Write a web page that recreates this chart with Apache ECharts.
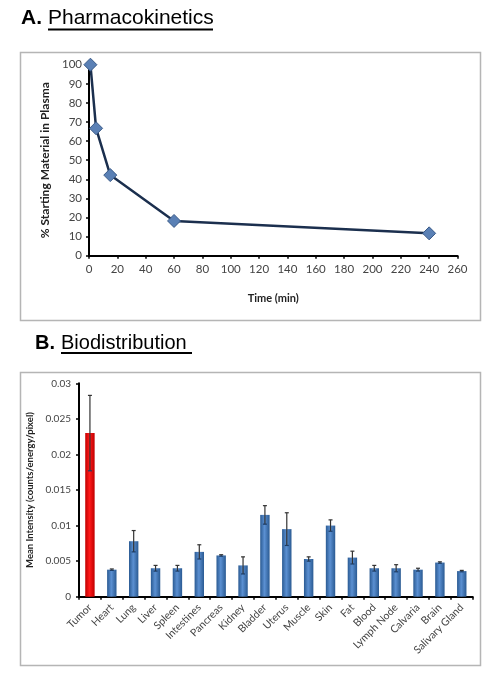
<!DOCTYPE html>
<html>
<head>
<meta charset="utf-8">
<script src="https://cdn.jsdelivr.net/npm/echarts@6/dist/echarts.min.js"></script>
<style>
html,body{margin:0;padding:0;background:#fff;}
#c{width:490px;height:673px;}
</style>
</head>
<body>
<div id="c"></div>
<script>
// ---- Panel A data ----
const pkTimes = [1, 5, 15, 60, 240];
const pkValues = [100, 66.7, 42.2, 18.2, 11.7];
const pkXTicks = [0, 260, 20];   // min, max, interval
const pkYTicks = [0, 100, 10];

// ---- Panel B data ----
const organs = ['Tumor','Heart','Lung','Liver','Spleen','Intestines','Pancreas','Kidney','Bladder','Uterus','Muscle','Skin','Fat','Blood','Lymph Node','Calvaria','Brain','Salivary Gland'];
const intensity = [0.0230,0.0038,0.0078,0.0040,0.0040,0.0063,0.0058,0.0044,0.0115,0.0095,0.0053,0.0100,0.0055,0.0040,0.0040,0.0038,0.0048,0.0036];
const intensityErr = [0.0053,0.0001,0.0015,0.0004,0.0004,0.0010,0.0001,0.0012,0.0013,0.0023,0.0003,0.0008,0.0009,0.0004,0.0005,0.0002,0.0001,0.0001];
const bdYTicks = [0, 0.03, 0.005];

const chart = echarts.init(document.getElementById('c'), null, {renderer:'canvas'});
const fontTick = 'Lato, "Open Sans", sans-serif';

const blueGrad = new echarts.graphic.LinearGradient(0,0,1,0,[
  {offset:0,color:'#2A5A92'},{offset:0.45,color:'#5B90D2'},{offset:1,color:'#2A5A92'}]);
const redGrad = new echarts.graphic.LinearGradient(0,0,1,0,[
  {offset:0,color:'#C00000'},{offset:0.45,color:'#FF1A1A'},{offset:1,color:'#C00000'}]);

const option = {
  backgroundColor:'#fff',
  animation:false,
  graphic:[
    {type:'rect', shape:{x:20.5,y:52.5,width:460,height:268}, style:{fill:'none',stroke:'#b5b5b5',lineWidth:1.5}},
    {type:'rect', shape:{x:20.5,y:372.5,width:460,height:293}, style:{fill:'none',stroke:'#b5b5b5',lineWidth:1.5}},
    {type:'text', left:21, top:8, style:{text:'A.', font:'bold 21px "Liberation Sans", Arial, sans-serif', fill:'#000'}},
    {type:'text', left:48, top:8, style:{text:'Pharmacokinetics', font:'21px "Liberation Sans", Arial, sans-serif', fill:'#000'}},
    {type:'line', shape:{x1:48,y1:29.5,x2:213,y2:29.5}, style:{stroke:'#000',lineWidth:1.8}},
    {type:'text', left:35, top:333, style:{text:'B.', font:'bold 20px "Liberation Sans", Arial, sans-serif', fill:'#000'}},
    {type:'text', left:61, top:333, style:{text:'Biodistribution', font:'20px "Liberation Sans", Arial, sans-serif', fill:'#000'}},
    {type:'line', shape:{x1:61,y1:353,x2:192,y2:353}, style:{stroke:'#000',lineWidth:1.8}}
  ],
  grid:[
    {left:89, top:64.7, width:368.5, height:191},
    {left:79, top:383.3, width:393.7, height:213.4}
  ],
  xAxis:[
    {type:'value', gridIndex:0, min:pkXTicks[0], max:pkXTicks[1], interval:pkXTicks[2],
     splitLine:{show:false},
     axisLine:{lineStyle:{color:'#000',width:2}},
     axisTick:{show:true,length:3,lineStyle:{color:'#000',width:1.5}},
     axisLabel:{color:'#444',fontSize:11.5,fontFamily:fontTick,margin:8},
     name:'Time (min)', nameLocation:'middle', nameGap:37,
     nameTextStyle:{fontWeight:'bold',fontSize:11,color:'#222',fontFamily:fontTick}},
    {type:'category', gridIndex:1, data:organs,
     axisLine:{lineStyle:{color:'#000',width:2}},
     axisTick:{show:true,length:3,lineStyle:{color:'#000',width:1.5}},
     axisLabel:{color:'#444',fontSize:10.5,fontFamily:fontTick,rotate:45,margin:9,interval:0}}
  ],
  yAxis:[
    {type:'value', gridIndex:0, min:pkYTicks[0], max:pkYTicks[1], interval:pkYTicks[2],
     splitLine:{show:false},
     axisLine:{show:true,lineStyle:{color:'#000',width:2}},
     axisTick:{show:true,length:3,lineStyle:{color:'#000',width:1.5}},
     axisLabel:{color:'#444',fontSize:11.5,fontFamily:fontTick,margin:7},
     name:'% Starting Material in Plasma', nameLocation:'middle', nameGap:38,
     nameTextStyle:{fontWeight:'bold',fontSize:12,color:'#222',fontFamily:fontTick}},
    {type:'value', gridIndex:1, min:bdYTicks[0], max:bdYTicks[1], interval:bdYTicks[2],
     splitLine:{show:false},
     axisLine:{show:true,lineStyle:{color:'#000',width:2}},
     axisTick:{show:true,length:3,lineStyle:{color:'#000',width:1.5}},
     axisLabel:{color:'#444',fontSize:10,fontFamily:fontTick,margin:8},
     name:'Mean Intensity (counts/energy/pixel)', nameLocation:'middle', nameGap:37,
     nameTextStyle:{fontWeight:'bold',fontSize:9.5,color:'#222',fontFamily:fontTick}}
  ],
  series:[
    {type:'line', xAxisIndex:0, yAxisIndex:0,
     data:pkTimes.map((t,i)=>[t,pkValues[i]]),
     lineStyle:{color:'#1B2F4E',width:2.5},
     symbol:'diamond', symbolSize:13,
     itemStyle:{color:'#5A80B5',borderColor:'#3A5A88',borderWidth:1}},
    {type:'bar', xAxisIndex:1, yAxisIndex:1, barWidth:'43%',
     data:intensity.map((v,i)=>({value:v,itemStyle:{color:i===0?redGrad:blueGrad}}))},
    {type:'custom', xAxisIndex:1, yAxisIndex:1,
     data:intensity.map((v,i)=>[i,v-intensityErr[i],v+intensityErr[i]]),
     renderItem:function(params,api){
       const x = api.value(0);
       const lo = api.coord([x,api.value(1)]);
       const hi = api.coord([x,api.value(2)]);
       const c = '#333';
       return {type:'group',children:[
         {type:'line',shape:{x1:lo[0],y1:lo[1],x2:hi[0],y2:hi[1]},style:{stroke:c,lineWidth:1.2}},
         {type:'line',shape:{x1:hi[0]-2,y1:hi[1],x2:hi[0]+2,y2:hi[1]},style:{stroke:c,lineWidth:1.2}},
         {type:'line',shape:{x1:lo[0]-2,y1:lo[1],x2:lo[0]+2,y2:lo[1]},style:{stroke:'#1d3d66',lineWidth:1.2}}
       ]};
     },
     z:5}
  ]
};
chart.setOption(option);
</script>
</body>
</html>
